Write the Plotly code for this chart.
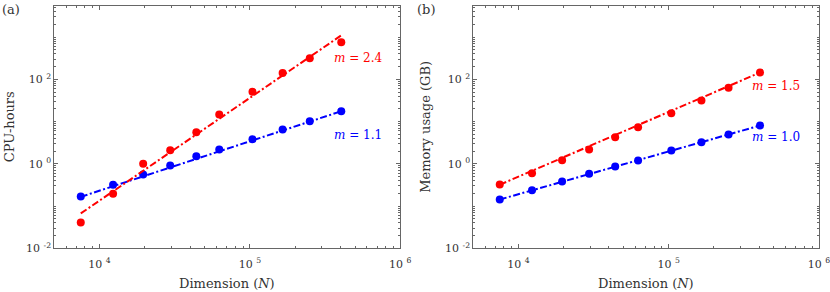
import math
import plotly.graph_objects as go

# ---- data ----
N = [7500, 12300, 19500, 29500, 44000, 62500, 104000, 165000, 250000, 405000]
cpu_red = [0.041, 0.195, 1.0, 2.1, 5.6, 14.7, 50.6, 142, 318, 758]
cpu_blue = [0.169, 0.318, 0.56, 0.91, 1.52, 2.18, 3.83, 6.5, 10.2, 17.6]
mem_red = [0.324, 0.60, 1.22, 2.18, 4.28, 7.38, 15.8, 31.5, 62.9, 145]
mem_blue = [0.143, 0.238, 0.382, 0.58, 0.865, 1.2, 2.07, 3.26, 4.95, 8.08]

fit_N = [7500, 405000]
cpu_red_fit = [0.067, 1100]
cpu_blue_fit = [0.165, 17.6]
mem_red_fit = [0.32, 145]
mem_blue_fit = [0.143, 8.08]

slope_labels = {"cpu_red": "2.4", "cpu_blue": "1.1", "mem_red": "1.5", "mem_blue": "1.0"}

x_major = [1e4, 1e5, 1e6]
x_major_text = ["10\u00a0<sup>4</sup>", "10\u00a0<sup>5</sup>", "10\u00a0<sup>6</sup>"]
y_major = [1e-2, 1e0, 1e2]
y_major_text = ["10\u00a0<sup>-2</sup>", "10\u00a0<sup>0</sup>", "10\u00a0<sup>2</sup>"]

x_minor = [k * 10 ** e for e in (3, 4, 5) for k in range(1, 10)
           if 5000 <= k * 10 ** e <= 1e6 and k * 10 ** e not in x_major]
y_minor = [k * 10.0 ** e for e in (-2, -1, 0, 1, 2, 3) for k in range(1, 10)
           if 1e-2 <= k * 10.0 ** e <= 5300 and not any(abs(k * 10.0 ** e - v) < 1e-12 for v in y_major)]

RED = "#ff0000"
BLUE = "#0000ff"
FONT = "DejaVu Serif"
TXT = "#333333"
AX = "#666666"
DASH = "7px,2.5px,2px,2.5px"

W, H = 830, 292

fig = go.Figure()

def add_series(x, y, fx, fy, color, xa, ya):
    fig.add_trace(go.Scatter(x=fx, y=fy, mode="lines", xaxis=xa, yaxis=ya,
                             line=dict(color=color, width=2, dash=DASH), showlegend=False))
    fig.add_trace(go.Scatter(x=x, y=y, mode="markers", xaxis=xa, yaxis=ya,
                             marker=dict(color=color, size=8), showlegend=False))

add_series(N, cpu_blue, fit_N, cpu_blue_fit, BLUE, "x", "y")
add_series(N, cpu_red, fit_N, cpu_red_fit, RED, "x", "y")
add_series(N, mem_blue, fit_N, mem_blue_fit, BLUE, "x2", "y2")
add_series(N, mem_red, fit_N, mem_red_fit, RED, "x2", "y2")

def xaxis(domain, anchor):
    return dict(type="log", domain=domain, anchor=anchor, range=[3.699, 6],
                tickmode="array", tickvals=x_major, ticktext=x_major_text,
                ticks="inside", ticklen=4, tickwidth=1, tickcolor=AX,
                minor=dict(tickmode="array", tickvals=x_minor, ticks="inside",
                           ticklen=2, tickwidth=1, tickcolor=AX, showgrid=False),
                showline=True, linecolor=AX, linewidth=1, mirror="allticks",
                showgrid=False, zeroline=False, automargin=False,
                ticklabeloverflow="allow", ticklabelstandoff=5,
                tickfont=dict(family=FONT, size=11, color=TXT))

def yaxis(anchor):
    return dict(type="log", domain=[(H - 248.3) / H, (H - 6.3) / H], anchor=anchor,
                range=[-2, 3.73],
                tickmode="array", tickvals=y_major, ticktext=y_major_text,
                ticks="inside", ticklen=4, tickwidth=1, tickcolor=AX,
                minor=dict(tickmode="array", tickvals=y_minor, ticks="inside",
                           ticklen=2, tickwidth=1, tickcolor=AX, showgrid=False),
                showline=True, linecolor=AX, linewidth=1, mirror="allticks",
                showgrid=False, zeroline=False, automargin=False,
                ticklabeloverflow="allow",
                tickfont=dict(family=FONT, size=11, color=TXT))

fig.update_layout(
    width=W, height=H, margin=dict(l=0, r=0, t=0, b=0),
    paper_bgcolor="white", plot_bgcolor="white",
    xaxis=xaxis([54.3 / W, 400.3 / W], "y"),
    yaxis=yaxis("x"),
    xaxis2=xaxis([473.3 / W, 819 / W], "y2"),
    yaxis2=yaxis("x2"),
    showlegend=False,
)

def note(text, x, y, xref, yref, color, size=12, xanchor="left", yanchor="middle", angle=0):
    fig.add_annotation(text=text, x=x, y=y, xref=xref, yref=yref, showarrow=False,
                       xanchor=xanchor, yanchor=yanchor, textangle=angle,
                       font=dict(family=FONT, size=size, color=color))

note("<i>m</i> = " + slope_labels["cpu_red"], math.log10(352000), math.log10(316), "x", "y", RED)
note("<i>m</i> = " + slope_labels["cpu_blue"], math.log10(352000), math.log10(4.94), "x", "y", BLUE)
note("<i>m</i> = " + slope_labels["mem_red"], math.log10(348000), math.log10(71.3), "x2", "y2", RED)
note("<i>m</i> = " + slope_labels["mem_blue"], math.log10(348000), math.log10(4.43), "x2", "y2", BLUE)

note("(a)", 0, 1, "paper", "paper", TXT, size=13, xanchor="left", yanchor="top")
note("(b)", 415 / W, 1, "paper", "paper", TXT, size=13, xanchor="left", yanchor="top")

note("Dimension (<i>N</i>)", 227.3 / W, (H - 283) / H, "paper", "paper", TXT, size=13, xanchor="center")
note("Dimension (<i>N</i>)", 646.2 / W, (H - 283) / H, "paper", "paper", TXT, size=13, xanchor="center")
note("CPU-hours", 9 / W, 1 - 127.3 / H, "paper", "paper", TXT, size=13, xanchor="center", angle=-90)
note("Memory usage (GB)", 425.5 / W, 1 - 127.3 / H, "paper", "paper", TXT, size=13, xanchor="center", angle=-90)

fig.write_html("out.html", config={"displayModeBar": False},
               post_script="document.body.style.margin='0';")
